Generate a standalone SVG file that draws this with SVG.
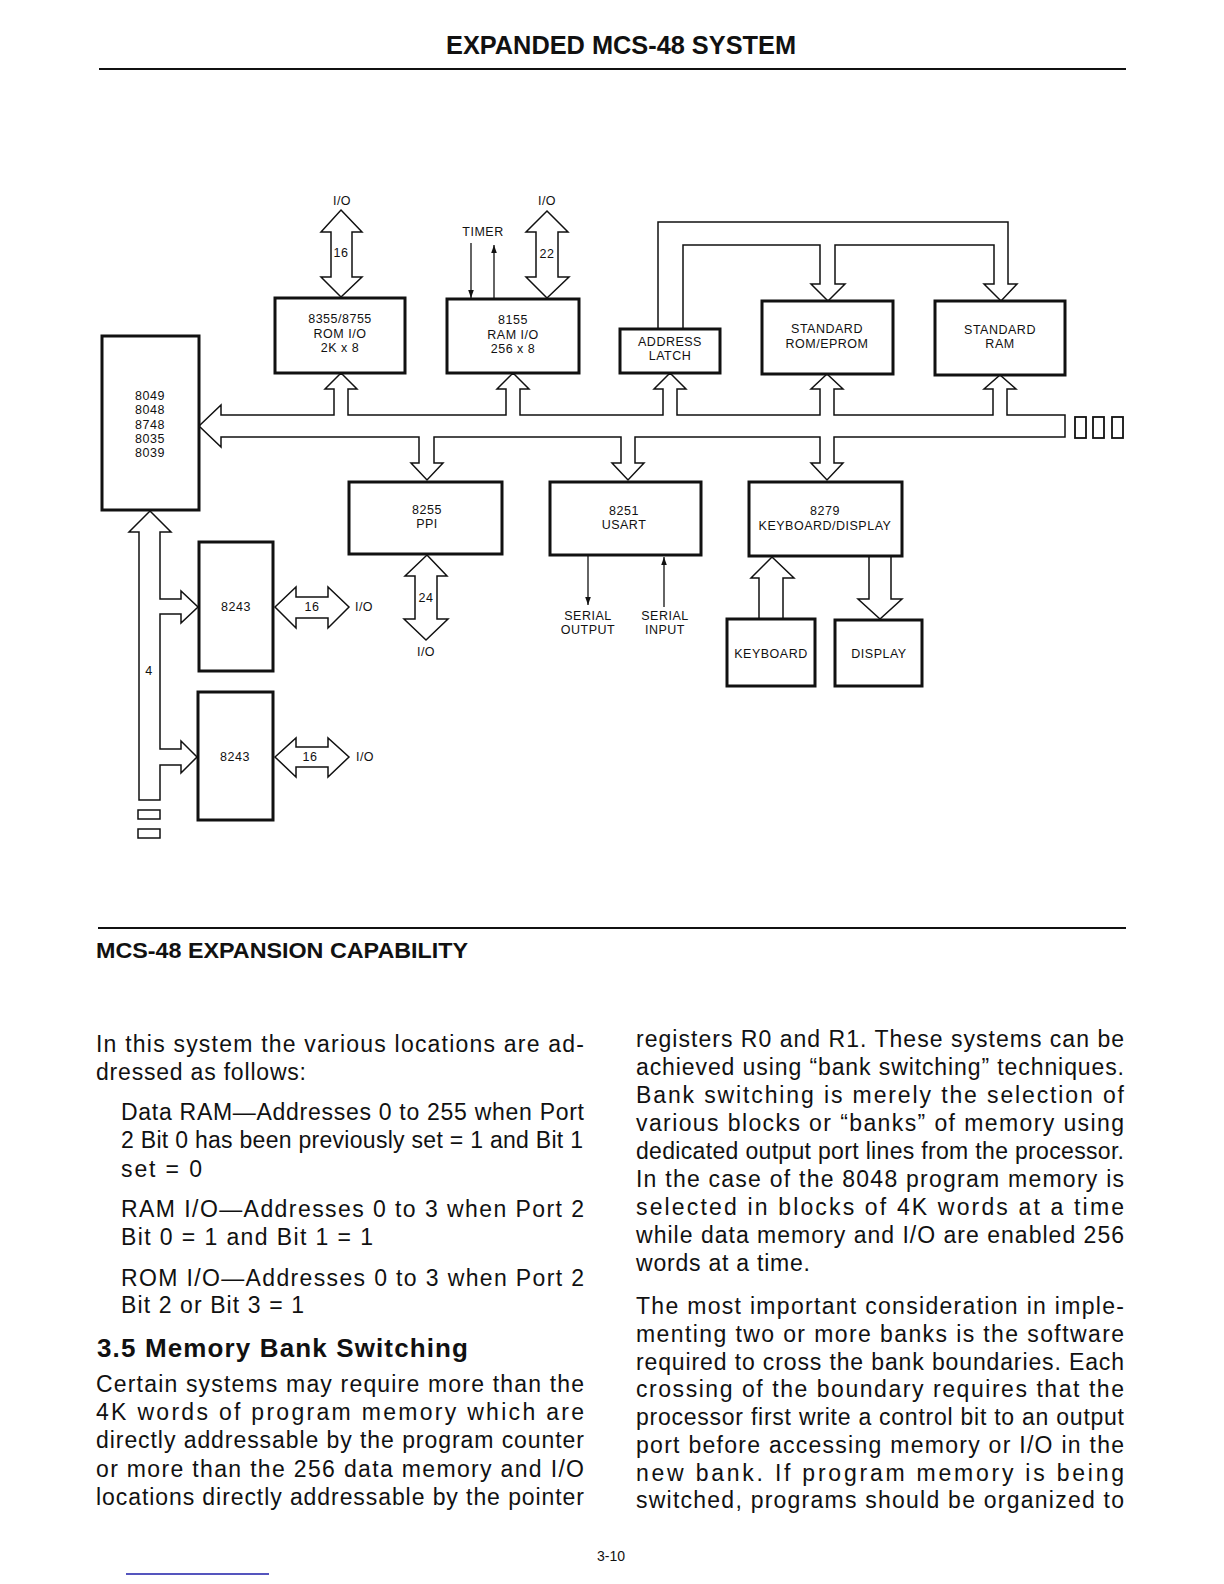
<svg xmlns="http://www.w3.org/2000/svg" width="1224" height="1584" viewBox="0 0 1224 1584">
<style>
.box{fill:#fff;stroke:#111;stroke-width:3}
.bus{fill:#fff;stroke:#111;stroke-width:1.5;stroke-linejoin:miter}
.ln{stroke:#111;stroke-width:1.3;fill:none}
.lbl{font-family:"Liberation Sans",Arial,sans-serif;font-size:12.5px;fill:#111;text-anchor:middle;dominant-baseline:central;letter-spacing:0.5px}
.body{font-family:"Liberation Sans",Arial,sans-serif;font-size:23px;fill:#111}
.hd{font-family:"Liberation Sans",Arial,sans-serif;font-weight:bold;fill:#111}
</style>
<defs>
<marker id="ah" viewBox="0 0 8 8" refX="8" refY="4" markerWidth="8" markerHeight="8" orient="auto" markerUnits="userSpaceOnUse"><path d="M0,1.2 L8,4 L0,6.8 Z" fill="#111"/></marker>
</defs>
<rect width="1224" height="1584" fill="#fff"/>

<text class="hd" x="446" y="54" font-size="25" textLength="350" lengthAdjust="spacingAndGlyphs">EXPANDED MCS-48 SYSTEM</text>
<line x1="99" y1="69" x2="1126" y2="69" stroke="#111" stroke-width="2.2"/>

<g id="connectors">
<path class="bus" d="M199,426 L221,405 V415 H334 V389 H325 L341,373 L357,389 H348 V415 H506 V389 H497 L513,373 L529,389 H520 V415 H663 V389 H654 L670,373 L686,389 H677 V415 H820 V389 H811 L827,374 L843,389 H834 V415 H993 V389 H984 L1000,375 L1016,389 H1007 V415 H1065 V437 H834 V463 H843 L827,480 L811,463 H820 V437 H635 V463 H644 L628,480 L612,463 H621 V437 H434 V463 H443 L427,480 L411,463 H419 V437 H221 V447 Z"/>
<rect x="1075" y="417" width="11" height="21" fill="#fff" stroke="#111" stroke-width="1.8"/>
<rect x="1093" y="417" width="11" height="21" fill="#fff" stroke="#111" stroke-width="1.8"/>
<rect x="1112" y="417" width="11" height="21" fill="#fff" stroke="#111" stroke-width="1.8"/>
<path class="bus" d="M658,329 V222 H1008 V284 H1017 L1001,301 L984,284 H994 V245 H835 V284 H845 L828,301 L811,284 H820 V245 H683 V329"/>
<path class="bus" d="M150,511 L171,532 H160 V599 H181 V591 L198,607 L181,623 V614 H160 V749 H181 V741 L197,757 L181,773 V765 H160 V800 H139 V532 H129 Z"/>
<rect x="138" y="810" width="22" height="9" fill="#fff" stroke="#111" stroke-width="1.5"/>
<rect x="138" y="829" width="22" height="9" fill="#fff" stroke="#111" stroke-width="1.5"/>
<path class="bus" d="M341,210 L362,232 H352 V277 H362 L341,297 L321,277 H331 V232 H321 Z"/>
<path class="bus" d="M547,211 L568,232 H558 V277 H569 L547,298 L526,277 H536 V232 H526 Z"/>
<path class="bus" d="M427,555 L447,576 H437 V619 H448 L426,640 L404,619 H415 V576 H405 Z"/>
<path class="bus" d="M275,607 L296,587 V597 H328 V587 L349,607 L328,628 V618 H296 V628 Z"/>
<path class="bus" d="M275,757 L296,738 V747 H328 V738 L349,757 L328,777 V767 H296 V777 Z"/>
<path class="bus" d="M759,619 V578 H751 L772,557 L794,578 H783 V619"/>
<path class="bus" d="M869,556 V599 H858 L880,619 L902,599 H891 V556"/>
<line class="ln" x1="471" y1="243" x2="471" y2="298" marker-end="url(#ah)"/>
<line class="ln" x1="494" y1="298" x2="494" y2="245" marker-end="url(#ah)"/>
<line class="ln" x1="588" y1="556" x2="588" y2="605" marker-end="url(#ah)"/>
<line class="ln" x1="664" y1="607" x2="664" y2="557" marker-end="url(#ah)"/>
<text class="lbl" x="342" y="201">I/O</text>
<text class="lbl" x="547" y="201">I/O</text>
<text class="lbl" x="341" y="253">16</text>
<text class="lbl" x="547" y="254">22</text>
<text class="lbl" x="483" y="232">TIMER</text>
<text class="lbl" x="312" y="607">16</text>
<text class="lbl" x="364" y="607">I/O</text>
<text class="lbl" x="310" y="757">16</text>
<text class="lbl" x="365" y="757">I/O</text>
<text class="lbl" x="426" y="598">24</text>
<text class="lbl" x="426" y="652">I/O</text>
<text class="lbl" x="149" y="671">4</text>
<text class="lbl" x="588" y="616">SERIAL</text>
<text class="lbl" x="588" y="630">OUTPUT</text>
<text class="lbl" x="665" y="616">SERIAL</text>
<text class="lbl" x="665" y="630">INPUT</text>
</g>

<g id="cpu">
<rect class="box" x="102" y="336" width="97" height="174"/>
<text class="lbl" x="150" y="396">8049</text>
<text class="lbl" x="150" y="410">8048</text>
<text class="lbl" x="150" y="425">8748</text>
<text class="lbl" x="150" y="439">8035</text>
<text class="lbl" x="150" y="453">8039</text>
</g>
<g id="rom8355">
<rect class="box" x="275" y="298" width="130" height="75"/>
<text class="lbl" x="340" y="319">8355/8755</text>
<text class="lbl" x="340" y="334">ROM I/O</text>
<text class="lbl" x="340" y="348">2K x 8</text>
</g>
<g id="ram8155">
<rect class="box" x="447" y="299" width="132" height="74"/>
<text class="lbl" x="513" y="320">8155</text>
<text class="lbl" x="513" y="335">RAM I/O</text>
<text class="lbl" x="513" y="349">256 x 8</text>
</g>
<g id="latch">
<rect class="box" x="620" y="329" width="100" height="44"/>
<text class="lbl" x="670" y="342">ADDRESS</text>
<text class="lbl" x="670" y="356">LATCH</text>
</g>
<g id="eprom">
<rect class="box" x="762" y="301" width="131" height="73"/>
<text class="lbl" x="827" y="329">STANDARD</text>
<text class="lbl" x="827" y="344">ROM/EPROM</text>
</g>
<g id="sram">
<rect class="box" x="935" y="301" width="130" height="74"/>
<text class="lbl" x="1000" y="330">STANDARD</text>
<text class="lbl" x="1000" y="344">RAM</text>
</g>
<g id="ppi8255">
<rect class="box" x="349" y="482" width="153" height="72"/>
<text class="lbl" x="427" y="510">8255</text>
<text class="lbl" x="427" y="524">PPI</text>
</g>
<g id="usart8251">
<rect class="box" x="550" y="482" width="151" height="73"/>
<text class="lbl" x="624" y="511">8251</text>
<text class="lbl" x="624" y="525">USART</text>
</g>
<g id="kd8279">
<rect class="box" x="749" y="482" width="153" height="74"/>
<text class="lbl" x="825" y="511">8279</text>
<text class="lbl" x="825" y="526">KEYBOARD/DISPLAY</text>
</g>
<g id="exp8243a">
<rect class="box" x="199" y="542" width="74" height="129"/>
<text class="lbl" x="236" y="607">8243</text>
</g>
<g id="exp8243b">
<rect class="box" x="198" y="692" width="75" height="128"/>
<text class="lbl" x="235" y="757">8243</text>
</g>
<g id="keyboard">
<rect class="box" x="727" y="619" width="88" height="67"/>
<text class="lbl" x="771" y="654">KEYBOARD</text>
</g>
<g id="display">
<rect class="box" x="835" y="620" width="87" height="66"/>
<text class="lbl" x="879" y="654">DISPLAY</text>
</g>

<line x1="98" y1="928" x2="1126" y2="928" stroke="#111" stroke-width="2"/>
<text class="hd" x="96" y="958" font-size="22" textLength="372" lengthAdjust="spacingAndGlyphs">MCS-48 EXPANSION CAPABILITY</text>

<g id="text-left">
<text class="body" x="96" y="1052" textLength="488" lengthAdjust="spacing">In this system the various locations are ad-</text>
<text class="body" x="96" y="1080" textLength="210" lengthAdjust="spacing">dressed as follows:</text>
<text class="body" x="121" y="1120" textLength="463" lengthAdjust="spacing">Data RAM—Addresses 0 to 255 when Port</text>
<text class="body" x="121" y="1148" textLength="462" lengthAdjust="spacing">2 Bit 0 has been previously set = 1 and Bit 1</text>
<text class="body" x="121" y="1177" textLength="81" lengthAdjust="spacing">set = 0</text>
<text class="body" x="121" y="1217" textLength="463" lengthAdjust="spacing">RAM I/O—Addresses 0 to 3 when Port 2</text>
<text class="body" x="121" y="1245" textLength="252" lengthAdjust="spacing">Bit 0 = 1 and Bit 1 = 1</text>
<text class="body" x="121" y="1286" textLength="463" lengthAdjust="spacing">ROM I/O—Addresses 0 to 3 when Port 2</text>
<text class="body" x="121" y="1313" textLength="183" lengthAdjust="spacing">Bit 2 or Bit 3 = 1</text>
<text class="hd" x="97" y="1357" font-size="26" textLength="371" lengthAdjust="spacing">3.5 Memory Bank Switching</text>
<text class="body" x="96" y="1392" textLength="488" lengthAdjust="spacing">Certain systems may require more than the</text>
<text class="body" x="96" y="1420" textLength="488" lengthAdjust="spacing">4K words of program memory which are</text>
<text class="body" x="96" y="1448" textLength="488" lengthAdjust="spacing">directly addressable by the program counter</text>
<text class="body" x="96" y="1477" textLength="488" lengthAdjust="spacing">or more than the 256 data memory and I/O</text>
<text class="body" x="96" y="1505" textLength="488" lengthAdjust="spacing">locations directly addressable by the pointer</text>
</g>
<g id="text-right">
<text class="body" x="636" y="1047" textLength="488" lengthAdjust="spacing">registers R0 and R1. These systems can be</text>
<text class="body" x="636" y="1075" textLength="488" lengthAdjust="spacing">achieved using “bank switching” techniques.</text>
<text class="body" x="636" y="1103" textLength="488" lengthAdjust="spacing">Bank switching is merely the selection of</text>
<text class="body" x="636" y="1131" textLength="488" lengthAdjust="spacing">various blocks or “banks” of memory using</text>
<text class="body" x="636" y="1159" textLength="488" lengthAdjust="spacing">dedicated output port lines from the processor.</text>
<text class="body" x="636" y="1187" textLength="488" lengthAdjust="spacing">In the case of the 8048 program memory is</text>
<text class="body" x="636" y="1215" textLength="488" lengthAdjust="spacing">selected in blocks of 4K words at a time</text>
<text class="body" x="636" y="1243" textLength="488" lengthAdjust="spacing">while data memory and I/O are enabled 256</text>
<text class="body" x="636" y="1271" textLength="174" lengthAdjust="spacing">words at a time.</text>
<text class="body" x="636" y="1314" textLength="488" lengthAdjust="spacing">The most important consideration in imple-</text>
<text class="body" x="636" y="1342" textLength="488" lengthAdjust="spacing">menting two or more banks is the software</text>
<text class="body" x="636" y="1370" textLength="488" lengthAdjust="spacing">required to cross the bank boundaries. Each</text>
<text class="body" x="636" y="1397" textLength="488" lengthAdjust="spacing">crossing of the boundary requires that the</text>
<text class="body" x="636" y="1425" textLength="488" lengthAdjust="spacing">processor first write a control bit to an output</text>
<text class="body" x="636" y="1453" textLength="488" lengthAdjust="spacing">port before accessing memory or I/O in the</text>
<text class="body" x="636" y="1481" textLength="488" lengthAdjust="spacing">new bank. If program memory is being</text>
<text class="body" x="636" y="1508" textLength="488" lengthAdjust="spacing">switched, programs should be organized to</text>
</g>

<text x="611" y="1561" font-family="'Liberation Sans',Arial,sans-serif" font-size="14" fill="#111" text-anchor="middle">3-10</text>
<line x1="126" y1="1574" x2="269" y2="1574" stroke="#1c1ca8" stroke-width="1.5"/>
</svg>
